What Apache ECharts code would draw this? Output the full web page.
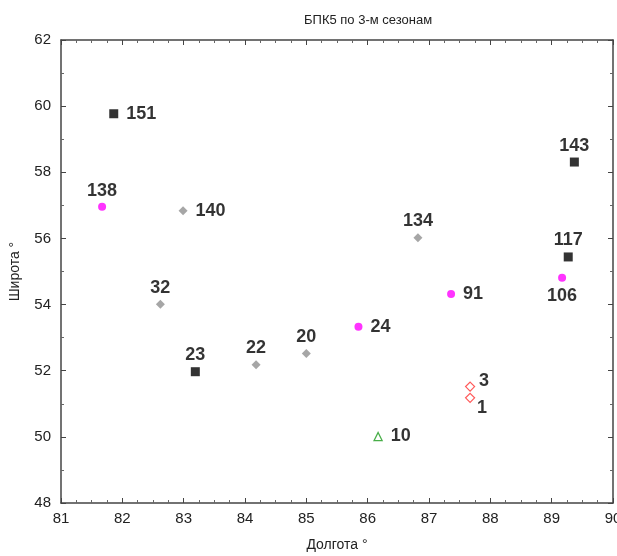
<!DOCTYPE html>
<html><head><meta charset="utf-8">
<script src="https://cdn.jsdelivr.net/npm/echarts@6/dist/echarts.min.js"></script>
<style>html,body{margin:0;padding:0;background:#fff}#c{width:617px;height:556px}</style>
</head><body><div id="c"></div>
<script>
// Data: [longitude, latitude, station id]
const blackSquares = [[81.86,59.77,'151'],[83.19,51.97,'23'],[89.37,58.31,'143'],[89.27,55.44,'117']];
const magentaCircles = [[81.67,56.96,'138'],[85.85,53.33,'24'],[87.36,54.32,'91'],[89.17,54.81,'106']];
const grayDiamonds = [[82.99,56.84,'140'],[82.62,54.01,'32'],[84.18,52.18,'22'],[85.00,52.52,'20'],[86.82,56.02,'134']];
const greenTriangles = [[86.17,50.01,'10']];
const redDiamonds = [[87.67,51.52,'3'],[87.67,51.18,'1']];
const xTicks = [81,82,83,84,85,86,87,88,89,90];
const yTicks = [48,50,52,54,56,58,60,62];

// label placement per station (style, kept apart from data)
const labelPlace = {
  '151':{position:'right',distance:8},
  '140':{position:'right',distance:8},
  '24':{position:'right',distance:8},
  '91':{position:'right',distance:8},
  '10':{position:'right',distance:8},
  '3':{position:[14,-9]},
  '1':{position:[12,6]},
  '106':{position:'bottom',distance:5},
};
function pts(arr){
  return arr.map(d=>{
    const p = labelPlace[d[2]] || {position:'top',distance:3};
    return {value:[d[0],d[1]], name:d[2], label:Object.assign({show:true,formatter:d[2],color:'#000'},p)};
  });
}
const lbl = {fontFamily:'Liberation Sans, Arial, sans-serif',fontWeight:'bold',fontSize:18,color:'#000'};
function series(arr, symbol, size, style){
  return {type:'scatter', xAxisIndex:0, yAxisIndex:0, symbol:symbol, symbolSize:size,
    itemStyle:style, label:Object.assign({show:true},lbl), data:pts(arr), emphasis:{disabled:true}};
}
const axLine = {lineStyle:{color:'#444',width:1.5}};
const tickFont = {fontFamily:'Liberation Sans, Arial, sans-serif',fontSize:15,color:'#222'};
const xmin = xTicks[0], xmax = xTicks[xTicks.length-1];
const ymin = yTicks[0], ymax = yTicks[yTicks.length-1];
function xa(pos, showLabel){
  return {type:'value', position:pos, min:xmin, max:xmax, interval:1,
    axisLine:Object.assign({show:true,onZero:false},axLine),
    axisTick:{show:true,inside:true,length:5,lineStyle:{color:'#444'}},
    minorTick:{show:true,splitNumber:4,length:3,lineStyle:{color:'#666'}},
    splitLine:{show:false},
    axisLabel:Object.assign({show:showLabel,margin:8},tickFont),
    name: showLabel?'Долгота °':'', nameLocation:'middle', nameGap:35,
    nameTextStyle:{fontFamily:'Liberation Sans, Arial, sans-serif',fontSize:14,color:'#222'}};
}
function ya(pos, showLabel){
  return {type:'value', position:pos, min:ymin, max:ymax, interval:2,
    axisLine:Object.assign({show:true,onZero:false},axLine),
    axisTick:{show:true,inside:true,length:5,lineStyle:{color:'#444'}},
    minorTick:{show:true,splitNumber:2,length:3,lineStyle:{color:'#666'}},
    splitLine:{show:false},
    axisLabel:Object.assign({show:showLabel,margin:10},tickFont),
    name: showLabel?'Широта °':'', nameLocation:'middle', nameGap:39, nameRotate:90,
    nameTextStyle:{fontFamily:'Liberation Sans, Arial, sans-serif',fontSize:14,color:'#222'}};
}
const chart = echarts.init(document.getElementById('c'), null, {renderer:'canvas'});
chart.setOption({
  animation:false,
  backgroundColor:'#fff',
  title:{text:'БПК5 по 3-м сезонам', left:299, top:9,
    textStyle:{fontFamily:'Liberation Sans, Arial, sans-serif',fontSize:13,fontWeight:'normal',color:'#222'}},
  grid:{left:61, right:4, top:40, bottom:53, outerBoundsMode:'none', containLabel:false},
  xAxis:[xa('bottom',true), xa('top',false)],
  yAxis:[ya('left',true), ya('right',false)],
  series:[
    series(blackSquares,'rect',9,{color:'#000'}),
    series(magentaCircles,'circle',8,{color:'#ff00ff'}),
    series(grayDiamonds,'diamond',9,{color:'#909090'}),
    series(greenTriangles,'triangle',8,{color:'#fff',borderColor:'#1a9a1a',borderWidth:1.3}),
    series(redDiamonds,'diamond',9,{color:'#fff',borderColor:'#ff3030',borderWidth:1.2}),
  ]
});
</script></body></html>
